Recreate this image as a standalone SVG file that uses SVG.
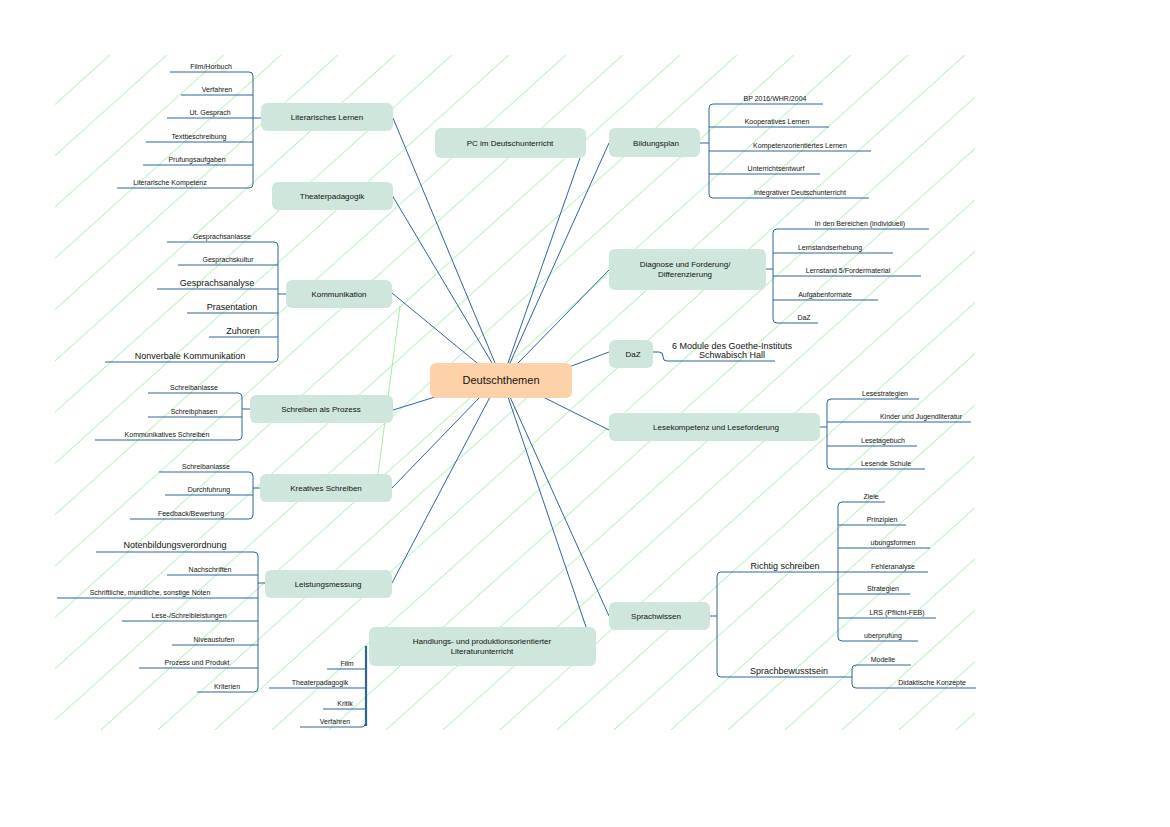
<svg xmlns="http://www.w3.org/2000/svg" width="1170" height="827" viewBox="0 0 1170 827">
<style>
.n{fill:#cfe6dd}
.c{fill:#fdd2a9}
.t{font-family:"Liberation Sans",Arial,sans-serif;font-size:7px;fill:#111;text-anchor:middle}
.m{font-size:8px}
.b{font-size:9px}
.k,.l{fill:none;stroke:#2f6496;stroke-width:1}
</style>
<defs>
<pattern id="h" patternUnits="userSpaceOnUse" width="57" height="51.3">
<path d="M0,51.3 L57,0 M-57,51.3 L0,0 M57,51.3 L114,0" stroke="#8be88b" stroke-width="0.8"/>
</pattern>
<clipPath id="cl"><rect x="55" y="55" width="920" height="675"/></clipPath>
</defs>
<rect width="1170" height="827" fill="#fff"/>
<rect x="55" y="55" width="920" height="675" fill="url(#h)"/>

<g id="connectors">
<path class="l" d="M393,118 L495,363 M392,195 L492,363 M392,293 L477,363 M580,158 L508,363 M609,143 L510,363 M609,270 L518,363 M609,352 L569,367 M393,410 L435,397 M392,488 L480,397 M392,583 L490,397 M586,627 L508,397 M609,616 L510,397 M609,430 L543,397"/>
<path d="M400,306 L378,474" stroke="#8be88b" stroke-width="0.8" fill="none"/>
<!-- left brackets -->
<path class="k" d="M170,72 H249 Q253,72 253,76 V184 Q253,188 249,188 H117 M181,95 H253 M167,118 H261 M146,142 H253 M143,165 H253"/>
<path class="k" d="M167,242 H274 Q278,242 278,246 V358 Q278,362 274,362 H105 M178,265 H278 M157,289 H278 M278,294 H286 M187,313 H278 M209,337 H278"/>
<path class="k" d="M148,393 H238 Q242,393 242,397 V436 Q242,440 238,440 H95 M148,417 H242 M242,409 H250"/>
<path class="k" d="M159,472 H249 Q253,472 253,476 V515 Q253,519 249,519 H130 M165,495 H253 M253,488 H260"/>
<path class="k" d="M96,552 H254 Q258,552 258,556 V688 Q258,692 254,692 H197 M167,575 H258 M57,598 H258 M122,621 H258 M172,645 H258 M139,668 H258 M258,583 H265"/>
<path class="k" d="M327,669 H365 M269,688 H365 M323,709 H365 M300,727 H362 Q365,727 365,724"/>
<path d="M366,646 V726" stroke="#2f6496" stroke-width="2.2" fill="none"/>
<!-- right brackets -->
<path class="k" d="M823,104 H713 Q709,104 709,108 V194 Q709,198 713,198 H869 M829,127 H709 M871,151 H709 M820,174 H709 M700,143 H709"/>
<path class="k" d="M929,229 H777 Q773,229 773,233 V319 Q773,323 777,323 H818 M893,253 H773 M921,276 H773 M878,300 H773 M766,269 H773"/>
<path class="k" d="M653,352 H659 Q663,352 663,356 V357 Q663,361 667,361 H775"/>
<path class="k" d="M919,399 H831 Q827,399 827,403 V465 Q827,469 831,469 H925 M971,422 H827 M917,446 H827 M820,427 H827"/>
<path class="k" d="M838,572 H721 Q717,572 717,576 V673 Q717,677 721,677 H852 M710,616 H717"/>
<path class="k" d="M885,502 H842 Q838,502 838,506 V637 Q838,641 842,641 H918 M906,525 H838 M930,548 H838 M928,572 H838 M910,594 H838 M936,618 H838"/>
<path class="k" d="M911,665 H856 Q852,665 852,669 V684 Q852,688 856,688 H976"/>
</g>

<g id="center"><rect class="c" x="430" y="363" width="142" height="35" rx="6"/><text class="t" x="501" y="384" style="font-size:11px">Deutschthemen</text></g>
<g id="n-lit"><rect class="n" x="261" y="103" width="132" height="28" rx="6"/><text class="t m" x="327" y="120">Literarisches Lernen</text></g>
<g id="n-the"><rect class="n" x="272" y="182" width="121" height="28" rx="6"/><text class="t m" x="332" y="199">Theaterpadagogik</text></g>
<g id="n-kom"><rect class="n" x="286" y="280" width="106" height="28" rx="6"/><text class="t m" x="339" y="297">Kommunikation</text></g>
<g id="n-sap"><rect class="n" x="250" y="395" width="143" height="28" rx="6"/><text class="t m" x="321" y="412">Schreiben als Prozess</text></g>
<g id="n-kre"><rect class="n" x="260" y="474" width="132" height="28" rx="6"/><text class="t m" x="326" y="491">Kreatives Schreiben</text></g>
<g id="n-lei"><rect class="n" x="265" y="570" width="127" height="28" rx="6"/><text class="t m" x="328" y="587">Leistungsmessung</text></g>
<g id="n-han"><rect class="n" x="369" y="627" width="227" height="39" rx="6"/><text class="t m" x="482" y="644">Handlungs- und produktionsorientierter</text><text class="t m" x="482" y="654">Literaturunterricht</text></g>
<g id="n-pc"><rect class="n" x="435" y="128" width="151" height="30" rx="6"/><text class="t m" x="510" y="146">PC im Deutschunterricht</text></g>
<g id="n-bil"><rect class="n" x="609" y="128" width="91" height="29" rx="6"/><text class="t m" x="656" y="146">Bildungsplan</text></g>
<g id="n-dia"><rect class="n" x="609" y="249" width="157" height="41" rx="6"/><text class="t m" x="685" y="267">Diagnose und Forderung/</text><text class="t m" x="685" y="277">Differenzierung</text></g>
<g id="n-daz"><rect class="n" x="609" y="340" width="44" height="28" rx="6"/><text class="t m" x="633" y="357">DaZ</text></g>
<g id="n-les"><rect class="n" x="609" y="413" width="211" height="28" rx="6"/><text class="t m" x="716" y="430">Lesekompetenz und Leseforderung</text></g>
<g id="n-spr"><rect class="n" x="609" y="602" width="101" height="28" rx="6"/><text class="t m" x="656" y="619">Sprachwissen</text></g>

<g id="labels">
<text class="t" x="211" y="69">Film/Horbuch</text>
<text class="t" x="217" y="92">Verfahren</text>
<text class="t" x="210" y="115">Ut. Gesprach</text>
<text class="t" x="199" y="139">Textbeschreibung</text>
<text class="t" x="197" y="162">Prufungsaufgaben</text>
<text class="t" x="170" y="185">Literarische Kompetenz</text>
<text class="t" x="222" y="239">Gesprachsanlasse</text>
<text class="t" x="228" y="262">Gesprachskultur</text>
<text class="t b" x="217" y="286">Gesprachsanalyse</text>
<text class="t b" x="232" y="310">Prasentation</text>
<text class="t b" x="243" y="334">Zuhoren</text>
<text class="t b" x="190" y="359">Nonverbale Kommunikation</text>
<text class="t" x="194" y="390">Schreibanlasse</text>
<text class="t" x="194" y="414">Schreibphasen</text>
<text class="t" x="167" y="437">Kommunikatives Schreiben</text>
<text class="t" x="206" y="469">Schreibanlasse</text>
<text class="t" x="209" y="492">Durchfuhrung</text>
<text class="t" x="191" y="516">Feedback/Bewertung</text>
<text class="t b" x="175" y="548">Notenbildungsverordnung</text>
<text class="t" x="210" y="572">Nachschriften</text>
<text class="t" x="150" y="595">Schriftliche, mundliche, sonstige Noten</text>
<text class="t" x="189" y="618">Lese-/Schreibleistungen</text>
<text class="t" x="214" y="642">Niveaustufen</text>
<text class="t" x="197" y="665">Prozess und Produkt</text>
<text class="t" x="227" y="689">Kriterien</text>
<text class="t" x="347" y="666">Film</text>
<text class="t" x="320" y="685">Theaterpadagogik</text>
<text class="t" x="345" y="706">Kritik</text>
<text class="t" x="335" y="724">Verfahren</text>
<text class="t" x="775" y="101">BP 2016/WHR/2004</text>
<text class="t" x="777" y="124">Kooperatives Lernen</text>
<text class="t" x="800" y="148">Kompetenzorientiertes Lernen</text>
<text class="t" x="776" y="171">Unterrichtsentwurf</text>
<text class="t" x="800" y="195">Integrativer Deutschunterricht</text>
<text class="t" x="860" y="226">In den Bereichen (individuell)</text>
<text class="t" x="830" y="250">Lernstandserhebung</text>
<text class="t" x="848" y="273">Lernstand 5/Fordermaterial</text>
<text class="t" x="825" y="297">Aufgabenformate</text>
<text class="t" x="804" y="320">DaZ</text>
<text class="t b" x="732" y="349">6 Module des Goethe-Instituts</text>
<text class="t b" x="732" y="358">Schwabisch Hall</text>
<text class="t" x="885" y="396">Lesestrategien</text>
<text class="t" x="921" y="419">Kinder und Jugendliteratur</text>
<text class="t" x="883" y="443">Lesetagebuch</text>
<text class="t" x="886" y="466">Lesende Schule</text>
<text class="t b" x="785" y="569">Richtig schreiben</text>
<text class="t b" x="789" y="674">Sprachbewusstsein</text>
<text class="t" x="871" y="499">Ziele</text>
<text class="t" x="882" y="522">Prinzipien</text>
<text class="t" x="893" y="545">ubungsformen</text>
<text class="t" x="893" y="569">Fehleranalyse</text>
<text class="t" x="883" y="591">Strategien</text>
<text class="t" x="897" y="615">LRS (Pflicht-FEB)</text>
<text class="t" x="883" y="638">uberprufung</text>
<text class="t" x="883" y="662">Modelle</text>
<text class="t" x="932" y="685">Didaktische Konzepte</text>
</g>
</svg>
